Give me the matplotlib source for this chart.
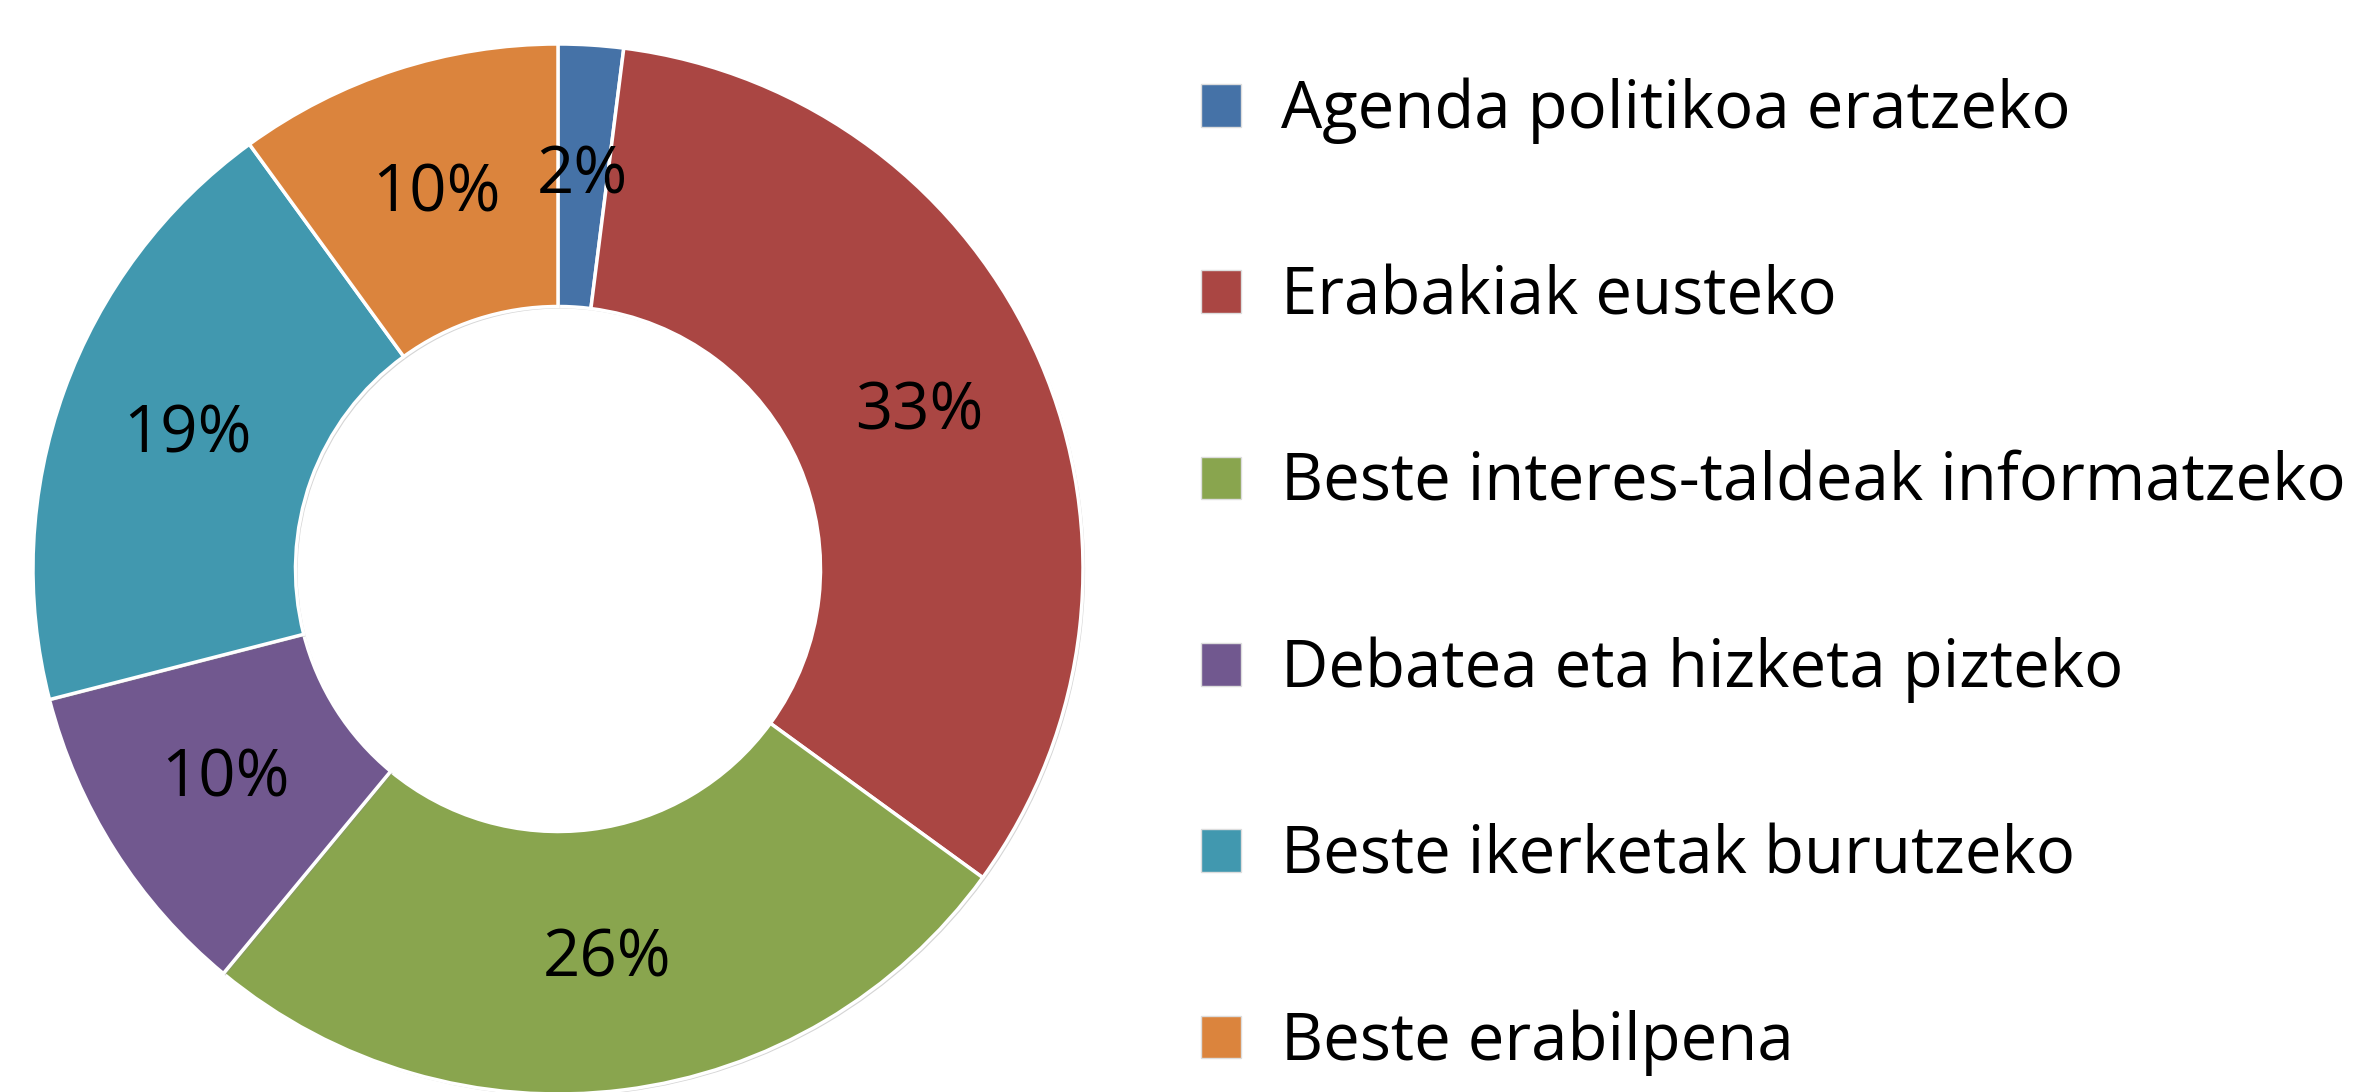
#!/usr/bin/env python3
# -*- coding: utf-8 -*-
"""
Donut chart: what the research results are used for
"""

import matplotlib
matplotlib.use('Agg')
import matplotlib.pyplot as plt
import matplotlib.patheffects as pe

# Data
categories = ['Agenda politikoa eratzeko',
              'Erabakiak eusteko',
              'Beste interes-taldeak informatzeko',
              'Debatea eta hizketa pizteko',
              'Beste ikerketak burutzeko',
              'Beste erabilpena']
values = [2, 33, 26, 10, 19, 10]
colors = ['#4572A7', '#AA4643', '#89A54E', '#71588F', '#4198AF', '#DB843D']

plt.rcParams['font.family'] = ['Open Sans', 'DejaVu Sans']

W, H = 2357, 1092
fig = plt.figure(figsize=(W / 100, H / 100), dpi=100)

# donut centre ~ (558, 569) px, outer radius ~ 525 px
cx, cy, R = 558, 569, 525
ax = fig.add_axes([(cx - R) / W, (H - cy - R) / H, 2 * R / W, 2 * R / H])

wedges, texts, autotexts = ax.pie(
    values, colors=colors, startangle=90, counterclock=False,
    autopct='%1.0f%%', pctdistance=0.75,
    wedgeprops=dict(width=0.5, edgecolor='white', linewidth=2.5),
    textprops=dict(fontsize=47, color='black'))

for w in wedges:
    w.set_path_effects([pe.SimplePatchShadow(offset=(1.5, -1.5), shadow_rgbFace='#888888', alpha=0.35),
                        pe.Normal()])
    w.set_clip_on(False)

ax.set_xlim(-1, 1)
ax.set_ylim(-1, 1)
ax.set_aspect('auto')
ax.axis('off')

# legend on the right
leg = fig.legend(wedges, categories, loc='upper left',
                 bbox_to_anchor=(1201 / W, 1 - 78 / H),
                 frameon=False, fontsize=47,
                 handlelength=0.62, handleheight=0.62,
                 handletextpad=0.6, labelspacing=1.84,
                 borderaxespad=0, borderpad=0)
for h in leg.legend_handles:
    h.set_path_effects([])
    h.set_edgecolor('#dddddd')
    h.set_linewidth(1)

fig.savefig('out.png', dpi=100)
